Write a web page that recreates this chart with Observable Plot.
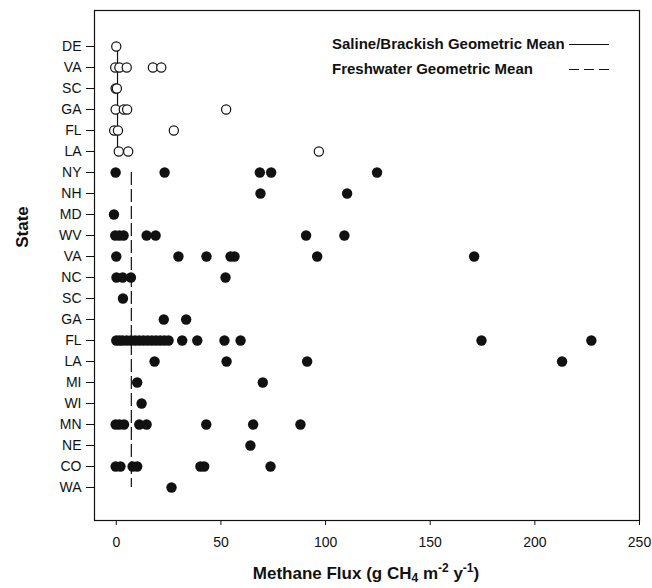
<!DOCTYPE html>
<html>
<head>
<meta charset="utf-8">
<script src="https://cdn.jsdelivr.net/npm/d3@7"></script>
<script src="https://cdn.jsdelivr.net/npm/@observablehq/plot@0.6"></script>
<style>
  body { margin: 0; background: #fff; }
  #chart svg { font-family: "Liberation Sans", Arial, sans-serif; }
</style>
</head>
<body>
<div id="chart"></div>
<script>
// ---- Data ----
const salineStates = ["DE", "VA", "SC", "GA", "FL", "LA"];
const salineFlux = [
  [0],
  [-0.5, 1.5, 5, 17.5, 21.5],
  [-0.3, 0.3],
  [-0.3, 3.6, 5.2, 52.5],
  [-1, 0.8, 27.5],
  [1.2, 5.7, 96.8]
];
const freshStates = ["NY", "NH", "MD", "WV", "VA", "NC", "SC", "GA", "FL", "LA", "MI", "WI", "MN", "NE", "CO", "WA"];
const freshFlux = [
  [-0.3, 23.1, 68.6, 74.0, 124.6],
  [68.9, 110.3],
  [-1.1],
  [-0.5, 1.5, 3.5, 14.5, 18.8, 90.7, 109],
  [0, 29.7, 43.1, 54.6, 56.5, 96, 171],
  [0.1, 3.1, 7, 52.2],
  [3.2],
  [22.7, 33.4],
  [0, 1.5, 3, 5, 7, 9, 11, 13, 15, 17, 19, 21, 23, 25, 31.5, 38.7, 51.7, 59.4, 174.5, 227],
  [18.3, 52.7, 91.2, 213],
  [10, 70],
  [12.1],
  [-0.3, 1.5, 3.7, 11, 14.5, 43, 65.4, 88],
  [64.1],
  [-0.3, 2, 7.8, 10, 40.2, 42, 73.7],
  [26.4]
];
const salineMean = 0.6;
const freshMean = 7.2;
const xTicks = [0, 50, 100, 150, 200, 250];
const legendLabels = ["Saline/Brackish Geometric Mean", "Freshwater Geometric Mean"];

// ---- Build tables ----
const salineKeys = salineStates.map(s => "S-" + s);
const freshKeys = freshStates.map(s => "F-" + s);
const rowKeys = [...salineKeys, ...freshKeys];
const salinePts = salineFlux.flatMap((vals, i) => vals.map(v => ({row: salineKeys[i], flux: v})));
const freshPts = freshFlux.flatMap((vals, i) => vals.map(v => ({row: freshKeys[i], flux: v})));
const meanRules = [
  {flux: salineMean, from: salineKeys[0], to: salineKeys[salineKeys.length - 1]},
  {flux: freshMean, from: freshKeys[0], to: freshKeys[freshKeys.length - 1]}
];

const chart = Plot.plot({
  width: 652,
  height: 588,
  marginTop: 10,
  marginBottom: 68,
  marginLeft: 94,
  marginRight: 13,
  style: {fontFamily: "Liberation Sans, Arial, sans-serif", fontSize: "14px", color: "#111"},
  x: {domain: [-10.4, 250], ticks: xTicks, label: null},
  y: {type: "point", domain: rowKeys, range: [32, 500], label: null},
  marks: [
    Plot.frame({stroke: "#111", strokeWidth: 1.2}),
    Plot.axisX({ticks: xTicks, tickSize: 5, tickPadding: 12, label: null, fontSize: 14}),
    Plot.axisY({tickSize: 8, tickPadding: 5, tickFormat: k => k.slice(2), label: null, fontSize: 14}),
    Plot.ruleX([meanRules[0]], {x: "flux", y1: "from", y2: "to", stroke: "#111", strokeWidth: 1.2}),
    Plot.ruleX([meanRules[1]], {x: "flux", y1: "from", y2: "to", stroke: "#111", strokeWidth: 1.2, strokeDasharray: "13,4"}),
    Plot.dot(salinePts, {x: "flux", y: "row", r: 4.6, stroke: "#111", fill: "white", strokeWidth: 1.2}),
    Plot.dot(freshPts, {x: "flux", y: "row", r: 5.2, fill: "#111", stroke: "none"})
  ]
});

document.getElementById("chart").appendChild(chart);

// ---- Titles and legend ----
const svg = d3.select(chart);
const ff = "Liberation Sans, Arial, sans-serif";

const xt = svg.append("text")
  .attr("x", 366).attr("y", 579)
  .attr("text-anchor", "middle")
  .attr("font-family", ff).attr("font-size", 17).attr("font-weight", "bold").attr("fill", "#111");
xt.append("tspan").text("Methane Flux (g CH");
xt.append("tspan").attr("font-size", 12).attr("dy", 3).text("4");
xt.append("tspan").attr("dy", -3).text(" m");
xt.append("tspan").attr("font-size", 12).attr("dy", -7).text("-2");
xt.append("tspan").attr("dy", 7).text(" y");
xt.append("tspan").attr("font-size", 12).attr("dy", -7).text("-1");
xt.append("tspan").attr("dy", 7).text(")");

svg.append("text")
  .attr("transform", "translate(28,227) rotate(-90)")
  .attr("text-anchor", "middle")
  .attr("font-family", ff).attr("font-size", 17).attr("font-weight", "bold").attr("fill", "#111")
  .text("State");

const legend = [
  {label: legendLabels[0], y: 49, dash: null},
  {label: legendLabels[1], y: 74, dash: "10,5"}
];
legend.forEach(l => {
  svg.append("text")
    .attr("x", 332).attr("y", l.y)
    .attr("text-anchor", "start")
    .attr("font-family", ff).attr("font-size", 15).attr("font-weight", "bold").attr("fill", "#111")
    .text(l.label);
  const line = svg.append("line")
    .attr("x1", 569).attr("x2", 609).attr("y1", l.y - 4.5).attr("y2", l.y - 4.5)
    .attr("stroke", "#111").attr("stroke-width", 1.2);
  if (l.dash) line.attr("stroke-dasharray", l.dash);
});
</script>
</body>
</html>
